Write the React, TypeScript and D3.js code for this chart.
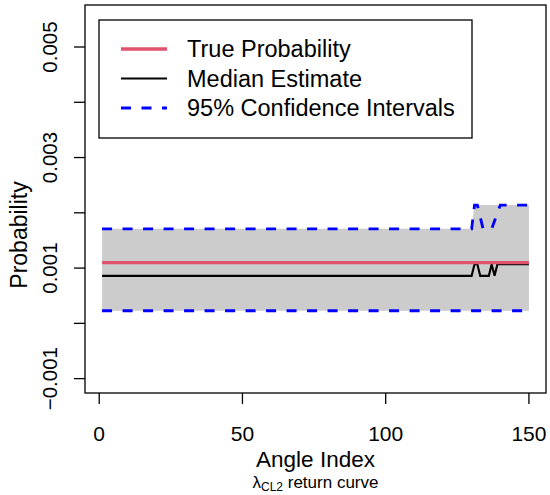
import React from "react";
import * as d3 from "d3";

// ---- data (knots; lines are straight between them) ----
const xTicks = [0, 50, 100, 150];
const yTicks = [-0.001, 0, 0.001, 0.002, 0.003, 0.004, 0.005];
const yTickLabels = ["\u22120.001", "", "0.001", "", "0.003", "", "0.005"];

const trueProbIdx = [1, 150];
const trueProbVal = [0.0011, 0.0011];

const medianIdx = [1, 130, 131, 132, 133, 136, 137, 138, 139, 150];
const medianVal = [0.00086, 0.00086, 0.00107, 0.00107, 0.00086, 0.00086, 0.00107, 0.00086, 0.00107, 0.00107];

const upperIdx = [1, 130, 131, 132, 134, 137, 140, 150];
const upperVal = [0.00171, 0.00171, 0.00214, 0.00214, 0.00171, 0.00171, 0.00214, 0.00214];

const lowerIdx = [1, 150];
const lowerVal = [0.000228, 0.000228];

const bandIdx = [1, 130, 131, 150];
const bandUpper = [0.00171, 0.00171, 0.00214, 0.00214];
const bandLower = [0.000228, 0.000228, 0.000228, 0.000228];

const legendLabels = ["True Probability", "Median Estimate", "95% Confidence Intervals"];

const FONT = "'Liberation Sans', Arial, Helvetica, sans-serif";

export default function App() {
  const left = 85, right = 546, top = 5, bottom = 393;
  const x = d3.scaleLinear().domain([-4.96, 155.96]).range([left, right]);
  const y = d3.scaleLinear().domain([-0.00126, 0.00576]).range([bottom, top]);

  const line = d3
    .line<[number, number]>()
    .x((d) => x(d[0]))
    .y((d) => y(d[1]));
  const zip = (a: number[], b: number[]) => a.map((v, i) => [v, b[i]] as [number, number]);

  const area = d3
    .area<number>()
    .x((_, i) => x(bandIdx[i]))
    .y0((_, i) => y(bandLower[i]))
    .y1((_, i) => y(bandUpper[i]));

  const tick = 11;
  const dash = "10,10.5";

  return (
    <svg
      width={550}
      height={495}
      style={{ position: "absolute", left: 0, top: 0, display: "block", background: "#fff" }}
      fontFamily={FONT}
    >
      <path d={area(bandIdx) || ""} fill="#CCCCCC" />
      <path d={line(zip(lowerIdx, lowerVal)) || ""} fill="none" stroke="#0000FF" strokeWidth={2.8} strokeDasharray={dash} />
      <path d={line(zip(upperIdx, upperVal)) || ""} fill="none" stroke="#0000FF" strokeWidth={2.8} strokeDasharray={dash} />
      <path d={line(zip(medianIdx, medianVal)) || ""} fill="none" stroke="#000" strokeWidth={2.1} />
      <path d={line(zip(trueProbIdx, trueProbVal)) || ""} fill="none" stroke="#DF536B" strokeWidth={3.3} />

      {/* box */}
      <rect x={left} y={top} width={right - left} height={bottom - top} fill="none" stroke="#000" strokeWidth={1.3} />

      {/* x axis */}
      {xTicks.map((t) => (
        <g key={"xt" + t}>
          <line x1={x(t)} x2={x(t)} y1={bottom} y2={bottom + tick} stroke="#000" strokeWidth={1.3} />
          <text x={x(t)} y={441} textAnchor="middle" fontSize={21}>
            {t}
          </text>
        </g>
      ))}

      {/* y axis */}
      {yTicks.map((t, i) => (
        <g key={"yt" + i}>
          <line x1={left} x2={left - tick} y1={y(t)} y2={y(t)} stroke="#000" strokeWidth={1.3} />
          {yTickLabels[i] && (
            <text
              transform={`translate(57,${y(t)}) rotate(-90)`}
              textAnchor="middle"
              fontSize={20.5}
            >
              {yTickLabels[i]}
            </text>
          )}
        </g>
      ))}

      <text x={(left + right) / 2} y={467} textAnchor="middle" fontSize={22.5}>
        Angle Index
      </text>
      <text x={(left + right) / 2} y={488} textAnchor="middle" fontSize={17}>
        {"\u03BB"}
        <tspan fontSize={12} dy={3}>CL2</tspan>
        <tspan dy={-3}> return curve</tspan>
      </text>
      <text transform={`translate(27,235) rotate(-90)`} textAnchor="middle" fontSize={23}>
        Probability
      </text>

      {/* legend */}
      <rect x={99} y={20} width={373} height={118} fill="#fff" stroke="#000" strokeWidth={1.3} />
      {legendLabels.map((lab, i) => {
        const ly = 49 + i * 29.5;
        const stroke = i === 0 ? "#DF536B" : i === 1 ? "#000" : "#0000FF";
        const sw = i === 0 ? 3.3 : i === 1 ? 2.1 : 2.8;
        return (
          <g key={lab}>
            <line x1={121} x2={167} y1={ly} y2={ly} stroke={stroke} strokeWidth={sw} strokeDasharray={i === 2 ? dash : undefined} />
            <text x={187} y={ly} dy="0.35em" fontSize={23.5}>
              {lab}
            </text>
          </g>
        );
      })}
    </svg>
  );
}
